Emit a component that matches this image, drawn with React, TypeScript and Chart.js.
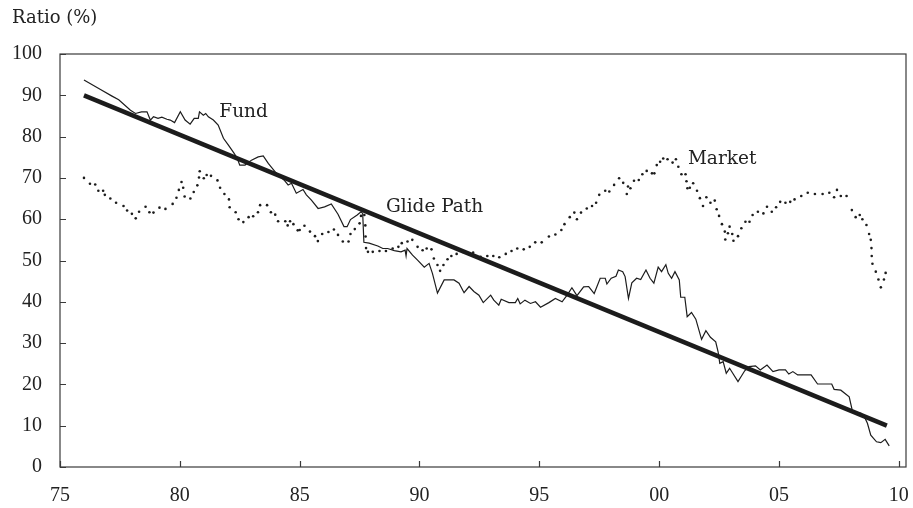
import React, { useEffect, useRef } from "react";
import { Chart, registerables } from "chart.js";

Chart.register(...registerables);

const fundYears = [
  1976.0, 1976.69, 1977.17, 1977.45, 1977.94, 1978.15, 1978.4, 1978.63, 1978.77, 1978.9,
  1979.09, 1979.25, 1979.46, 1979.6, 1979.78, 1980.02, 1980.22, 1980.43, 1980.6, 1980.77,
  1980.82, 1980.98, 1981.08, 1981.19, 1981.4, 1981.6, 1981.82, 1982.02, 1982.26, 1982.4,
  1982.5, 1982.72, 1982.99, 1983.27, 1983.48, 1983.69, 1983.97, 1984.38, 1984.52, 1984.66,
  1984.86, 1985.14, 1985.28, 1985.49, 1985.77, 1986.04, 1986.32, 1986.6, 1986.85, 1986.98,
  1987.12, 1987.4, 1987.56, 1987.63, 1987.68, 1987.9, 1988.26, 1988.47, 1988.67, 1988.95,
  1989.23, 1989.4, 1989.44, 1989.48, 1989.71, 1989.92, 1990.2, 1990.4, 1990.54, 1990.75,
  1991.03, 1991.44, 1991.65, 1991.86, 1992.07, 1992.27, 1992.48, 1992.66, 1992.97, 1993.1,
  1993.31, 1993.41, 1993.73, 1994.0, 1994.1, 1994.2, 1994.4, 1994.63, 1994.84, 1995.05,
  1995.4, 1995.67, 1995.95, 1996.16, 1996.36, 1996.57, 1996.85, 1997.06, 1997.29, 1997.54,
  1997.75, 1997.82, 1998.0, 1998.2, 1998.3, 1998.48, 1998.58, 1998.72, 1998.86, 1999.06,
  1999.23, 1999.45, 1999.62, 1999.78, 1999.96, 2000.1, 2000.28, 2000.38, 2000.52, 2000.66,
  2000.84, 2000.9, 2001.07, 2001.17, 2001.35, 2001.53, 2001.77, 2001.95, 2002.14, 2002.36,
  2002.46, 2002.53, 2002.67, 2002.8, 2002.94, 2003.29, 2003.57, 2003.75, 2004.02, 2004.22,
  2004.5, 2004.75, 2005.0, 2005.27, 2005.41, 2005.58, 2005.78, 2006.34, 2006.61, 2007.2,
  2007.3, 2007.58, 2007.93, 2008.07, 2008.42, 2008.55, 2008.69, 2008.83, 2009.07, 2009.25,
  2009.43, 2009.6,
];
const fundValues = [
  93.7, 91.4, 89.8, 88.9, 86.4, 85.6, 86.0, 86.0, 84.0, 84.8,
  84.4, 84.7, 84.2, 84.0, 83.4, 86.0, 84.0, 83.0, 84.4, 84.4,
  86.0, 85.2, 85.6, 84.8, 84.0, 82.8, 79.6, 78.0, 76.0, 74.7,
  73.1, 73.1, 74.3, 75.1, 75.3, 73.5, 71.5, 69.3, 68.3, 68.7,
  66.3, 67.2, 65.9, 64.6, 62.6, 63.0, 63.7, 61.2, 58.2, 58.2,
  59.9, 61.0, 61.8, 61.4, 54.4, 54.2, 53.5, 52.9, 52.9, 52.4,
  52.1, 52.5, 51.1, 52.9, 51.3, 50.1, 48.4, 49.3, 46.9, 42.1,
  45.3, 45.3, 44.5, 42.2, 43.7, 42.5, 41.6, 39.8, 41.6, 40.4,
  39.2, 40.6, 39.8, 39.8, 40.8, 39.5, 40.4, 39.6, 40.0, 38.7,
  39.8, 40.8, 40.0, 41.6, 43.4, 41.5, 43.6, 43.7, 42.0, 45.7,
  45.7, 44.3, 45.7, 46.2, 47.7, 47.3, 46.1, 40.8, 44.6, 45.7,
  45.4, 47.7, 45.7, 44.5, 48.4, 47.3, 49.0, 46.9, 45.7, 47.3,
  45.3, 41.1, 41.1, 36.4, 37.4, 35.8, 30.9, 33.0, 31.4, 30.3,
  27.9, 25.1, 25.5, 22.7, 23.9, 20.7, 23.3, 24.3, 24.5, 23.5,
  24.7, 23.1, 23.5, 23.5, 22.5, 23.1, 22.3, 22.3, 20.1, 20.1,
  18.8, 18.6, 17.0, 13.4, 13.0, 12.3, 10.6, 7.7, 6.1, 5.9,
  6.7, 5.1,
];

const marketYears = [
  1976.0, 1976.25, 1976.47, 1976.6, 1976.8, 1976.87, 1977.1, 1977.34, 1977.65, 1977.8,
  1978.0, 1978.16, 1978.3, 1978.57, 1978.73, 1978.9, 1979.15, 1979.4, 1979.7, 1979.86,
  1979.96, 1980.07, 1980.14, 1980.2, 1980.44, 1980.58, 1980.73, 1980.8, 1980.83, 1981.0,
  1981.12, 1981.3, 1981.57, 1981.68, 1981.86, 1982.05, 1982.08, 1982.33, 1982.45, 1982.65,
  1982.87, 1983.06, 1983.26, 1983.35, 1983.64, 1983.8, 1983.98, 1984.1, 1984.4, 1984.5,
  1984.6, 1984.74, 1984.92, 1985.0, 1985.2, 1985.43, 1985.64, 1985.76, 1985.94, 1986.2,
  1986.43, 1986.6, 1986.8, 1987.04, 1987.12, 1987.3, 1987.5, 1987.56, 1987.7, 1987.74,
  1987.75, 1987.77, 1987.85, 1988.05, 1988.33, 1988.6, 1988.88, 1989.12, 1989.26, 1989.5,
  1989.7, 1989.92, 1990.13, 1990.3, 1990.5, 1990.6, 1990.75, 1990.86, 1991.0, 1991.17,
  1991.33, 1991.55, 1991.8, 1992.07, 1992.24, 1992.55, 1992.83, 1993.08, 1993.33, 1993.6,
  1993.84, 1994.08, 1994.35, 1994.6, 1994.83, 1995.1, 1995.4, 1995.67, 1995.92, 1996.05,
  1996.27, 1996.46, 1996.57, 1996.74, 1996.98, 1997.2, 1997.37, 1997.5, 1997.75, 1997.92,
  1998.12, 1998.33, 1998.5, 1998.65, 1998.7, 1998.8, 1998.95, 1999.15, 1999.3, 1999.48,
  1999.7, 1999.8, 1999.9, 2000.04, 2000.17, 2000.35, 2000.56, 2000.7, 2000.8, 2000.93,
  2001.1, 2001.14, 2001.18, 2001.28, 2001.42, 2001.58, 2001.7, 2001.83, 2001.97, 2002.14,
  2002.32, 2002.4, 2002.5, 2002.62, 2002.74, 2002.76, 2002.87, 2002.94, 2003.05, 2003.1,
  2003.29, 2003.43, 2003.6, 2003.77, 2003.9, 2004.12, 2004.35, 2004.5, 2004.7, 2004.88,
  2005.05, 2005.27, 2005.47, 2005.65, 2005.93, 2006.2, 2006.5, 2006.82, 2007.1, 2007.3,
  2007.42, 2007.58, 2007.82, 2008.04, 2008.2, 2008.37, 2008.48, 2008.65, 2008.76, 2008.83,
  2008.86, 2008.87, 2008.9, 2009.04, 2009.15, 2009.25, 2009.38, 2009.45,
];
const marketValues = [
  70.0, 68.6, 68.4, 66.9, 66.9, 65.9, 65.0, 64.0, 63.2, 62.1,
  61.3, 60.2, 61.8, 63.0, 61.7, 61.6, 62.8, 62.5, 63.7, 65.2,
  67.1, 69.0, 67.6, 65.5, 65.0, 66.6, 68.2, 70.1, 71.6, 69.9,
  70.7, 70.5, 69.4, 67.6, 66.1, 64.8, 62.9, 61.7, 60.0, 59.3,
  60.5, 60.7, 61.7, 63.4, 63.4, 61.7, 61.1, 59.5, 59.5, 58.5,
  59.5, 58.8, 57.3, 57.4, 58.4, 57.0, 55.9, 54.7, 56.4, 56.9,
  57.5, 56.2, 54.6, 54.6, 56.4, 57.6, 59.0, 60.8, 61.0, 58.5,
  55.8, 53.0, 52.1, 52.1, 52.3, 52.3, 52.9, 53.3, 54.2, 54.6,
  55.0, 53.3, 52.5, 52.9, 52.7, 50.5, 48.9, 47.5, 48.9, 50.3,
  51.1, 51.6, 52.1, 51.6, 51.9, 50.9, 51.1, 51.1, 50.8, 51.6,
  52.3, 52.9, 52.7, 53.3, 54.4, 54.4, 55.8, 56.3, 57.4, 58.8,
  60.5, 61.6, 60.0, 61.6, 62.6, 63.2, 64.0, 65.9, 66.9, 66.7,
  68.3, 69.9, 68.8, 66.1, 67.9, 67.5, 69.3, 69.5, 70.9, 71.7,
  71.1, 71.1, 73.1, 73.9, 74.7, 74.5, 73.7, 74.5, 72.7, 70.9,
  70.9, 69.2, 67.5, 67.6, 68.7, 66.9, 65.1, 63.2, 65.3, 64.0,
  64.5, 62.4, 60.8, 58.8, 57.0, 55.1, 56.6, 58.2, 56.4, 54.8,
  55.9, 57.8, 59.4, 59.4, 61.0, 61.8, 61.4, 63.0, 61.8, 62.9,
  64.2, 64.0, 64.2, 64.8, 65.6, 66.4, 66.1, 66.1, 66.4, 65.3,
  67.1, 65.6, 65.6, 62.2, 60.5, 61.0, 60.0, 58.6, 56.4, 55.0,
  53.0, 51.1, 49.2, 47.3, 45.4, 43.5, 45.4, 47.0,
];

const glideYears = [1976.0, 2009.5];
const glideValues = [90, 10];

const seriesNames = ["Fund", "Glide Path", "Market"];
const labelYears = [1981.65, 1988.6, 2001.2];
const labelValues = [86, 63, 74.6];

const yAxisTitle = "Ratio (%)";
const xTickValues = [1975, 1980, 1985, 1990, 1995, 2000, 2005, 2010];
const xTickLabels = ["75", "80", "85", "90", "95", "00", "05", "10"];
const yTickValues = [0, 10, 20, 30, 40, 50, 60, 70, 80, 90, 100];

const toPoints = (xs: number[], ys: number[]) => xs.map((x, i) => ({ x, y: ys[i] }));

const INK = "#1c1c1c";
const TEXT = "#222222";
const SERIF_TICK = "'Liberation Serif', serif";
const SERIF_LABEL = "'DejaVu Serif', serif";

const decorPlugin = {
  id: "decor",
  afterDraw(chart: any) {
    const { ctx, chartArea, scales } = chart;
    const { left, right, top, bottom } = chartArea;
    ctx.save();
    ctx.strokeStyle = "#3a3a3a";
    ctx.lineWidth = 1.2;
    ctx.strokeRect(left, top, right - left, bottom - top);
    ctx.beginPath();
    xTickValues.forEach((v) => {
      const px = Math.round(scales.x.getPixelForValue(v)) + 0.5;
      ctx.moveTo(px, bottom);
      ctx.lineTo(px, bottom - 6);
    });
    yTickValues.forEach((v) => {
      const py = Math.round(scales.y.getPixelForValue(v)) + 0.5;
      ctx.moveTo(left, py);
      ctx.lineTo(left + 6, py);
    });
    ctx.stroke();

    ctx.fillStyle = TEXT;
    ctx.textBaseline = "middle";
    ctx.textAlign = "left";
    ctx.font = `18px ${SERIF_LABEL}`;
    ctx.fillText(yAxisTitle, 12, 18);
    ctx.font = `18.5px ${SERIF_LABEL}`;
    seriesNames.forEach((name, i) => {
      const px = scales.x.getPixelForValue(labelYears[i]);
      const py = scales.y.getPixelForValue(labelValues[i]);
      ctx.fillText(name, px, py);
    });
    ctx.restore();
  },
};

export default function App() {
  const canvasRef = useRef<HTMLCanvasElement | null>(null);

  useEffect(() => {
    if (!canvasRef.current) return;
    const chart = new Chart(canvasRef.current, {
      type: "scatter",
      data: {
        datasets: [
          {
            label: "Market",
            data: toPoints(marketYears, marketValues),
            showLine: false,
            pointRadius: 1.3,
            pointBorderWidth: 0,
            pointBackgroundColor: INK,
            pointBorderColor: INK,
          },
          {
            label: "Fund",
            data: toPoints(fundYears, fundValues),
            showLine: true,
            borderColor: INK,
            borderWidth: 1.2,
            pointRadius: 0,
            tension: 0,
          },
          {
            label: "Glide Path",
            data: toPoints(glideYears, glideValues),
            showLine: true,
            borderColor: INK,
            borderWidth: 4.5,
            pointRadius: 0,
          },
        ],
      },
      options: {
        animation: false,
        responsive: false,
        maintainAspectRatio: false,
        layout: { padding: { top: 54, right: 7, left: 0, bottom: 0 } },
        plugins: {
          legend: { display: false },
          tooltip: { enabled: false },
          title: { display: false },
        },
        scales: {
          x: {
            type: "linear",
            min: 1975,
            max: 2010.3,
            grid: { display: false, drawTicks: false },
            border: { display: false },
            afterFit: (scale: any) => {
              scale.height = 41;
              scale.paddingLeft = 0;
              scale.paddingRight = 0;
            },
            afterBuildTicks: (scale: any) => {
              scale.ticks = xTickValues.map((v) => ({ value: v }));
            },
            ticks: {
              autoSkip: false,
              maxRotation: 0,
              padding: 17,
              color: TEXT,
              font: { family: SERIF_TICK, size: 20 },
              callback: (value: any) => {
                const i = xTickValues.indexOf(Number(value));
                return i >= 0 ? xTickLabels[i] : "";
              },
            },
          },
          y: {
            type: "linear",
            min: 0,
            max: 100,
            grid: { display: false, drawTicks: false },
            border: { display: false },
            afterFit: (scale: any) => {
              scale.width = 60;
              scale.paddingTop = 0;
              scale.paddingBottom = 0;
            },
            afterBuildTicks: (scale: any) => {
              scale.ticks = yTickValues.map((v) => ({ value: v }));
            },
            ticks: {
              padding: 18,
              color: TEXT,
              font: { family: SERIF_TICK, size: 20 },
            },
          },
        },
      },
      plugins: [decorPlugin],
    });
    return () => chart.destroy();
  }, []);

  return (
    <div style={{ position: "fixed", left: 0, top: 0, width: 913, height: 508, background: "#ffffff" }}>
      <canvas ref={canvasRef} width={913} height={508} style={{ display: "block", width: 913, height: 508 }} />
    </div>
  );
}
